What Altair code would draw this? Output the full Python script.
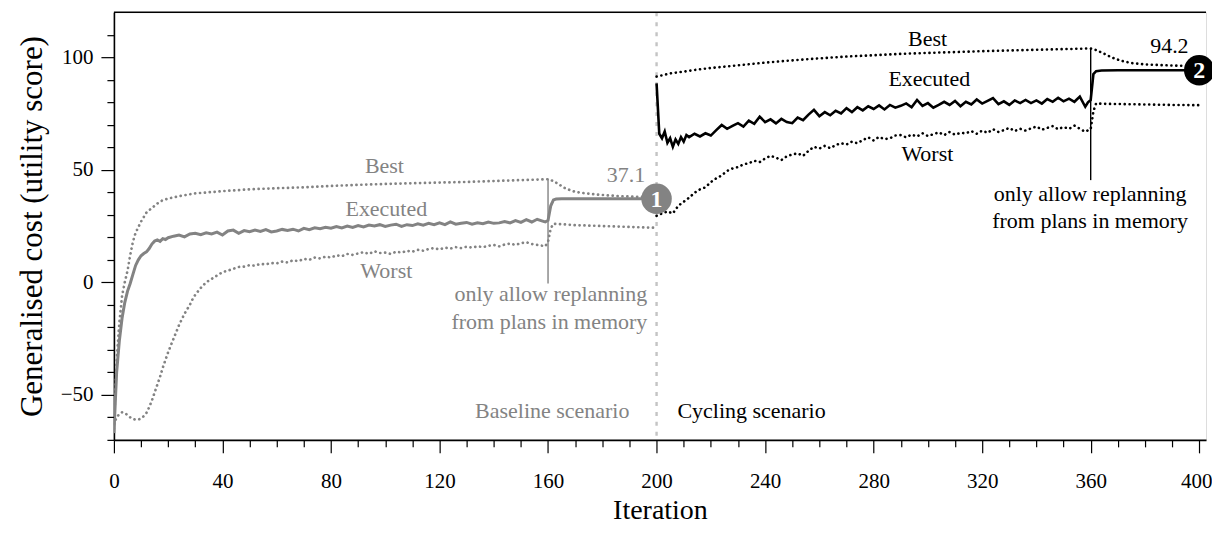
import altair as alt
import pandas as pd

# ---------------- data ----------------
# Baseline scenario (grey)
base_exec_iter = [0,1,2,3,4,5,6,7,8,9,10,11,12,13,14,15,16,17,18,19,20,
                  22,24,26,28,30,32,34,36,38,40,42,44,46,48,50,52,54,56,58,60,
                  62,64,66,68,70,72,74,76,78,80,82,84,86,88,90,92,94,96,98,100,
                  102,104,106,108,110,112,114,116,118,120,122,124,126,128,130,132,134,136,138,140,
                  142,144,146,148,150,152,154,156,158,159,160,161,162,163,165,170,180,190,200]
base_exec_val = [-67,-40,-26,-16,-9,-4,-0.5,3.5,7.5,10,11.8,12.8,13.5,15,17,18.3,18.8,18.2,19.4,19,19.8,
                 20.5,21,20.2,21.5,21.8,21.2,22,21.5,22.3,21,22.8,23.2,21.8,23,22.5,23.2,22.6,23.4,22.4,22.8,
                 23.5,23,23.6,22.8,24,23.4,24.2,23.8,24.4,24,24.8,24.2,25,24.4,25.2,24.6,25.4,25,25.6,24.8,
                 25.4,25.8,24.8,25.6,25.2,26,25.4,26.2,25.6,26.4,25.6,26.8,25.8,26.2,26.6,25.8,26.4,26,26.8,26.2,
                 26.4,27,26.4,27.4,26.6,27.8,26.8,28,27.2,26.8,27.5,34,36.6,37,37.1,37.1,37.1,37.1,37.1]

base_best_iter = [0,1,2,3,4,5,6,7,8,10,12,14,16,18,20,25,30,40,50,60,70,80,90,100,
                  110,120,130,140,150,160,162,164,166,168,170,174,180,186,192,200]
base_best_val = [-65,-35,-18,-6,0,5,12,18,22,27,31,33,35,36.5,37.2,38.5,39.5,40.5,41.3,41.8,42.2,42.8,43.3,43.7,
                 44,44.3,44.6,45,45.4,45.8,45,43.5,42,41,40.2,39.5,38.8,38.3,38,37.8]

base_worst_iter = [0,1,2,3,4,5,6,7,8,9,10,11,12,13,14,15,16,17,18,19,20,21,22,23,24,25,26,27,28,29,30,
                   32,34,36,38,40,42,44,46,48,50,52,54,56,58,60,62,64,66,68,70,72,74,76,78,80,
                   82,84,86,88,90,92,94,96,98,100,102,104,106,108,110,112,114,116,118,120,
                   122,124,126,128,130,132,134,136,138,140,142,144,146,148,150,152,154,156,158,159,160,161,162,
                   165,170,180,190,200]
base_worst_val = [-63,-60,-58.5,-57.8,-58,-59,-60,-60.8,-61,-61,-60.5,-59.5,-58,-55.5,-52.5,-49,-45.5,-42,-38,-34.5,-31,
                  -28,-25,-22,-19,-16.5,-14,-12,-10,-7.5,-5.5,
                  -2.5,0,1.5,3,4.5,5.2,6,6.8,7,7.6,7.4,8.2,8,8.6,8.4,9.2,8.8,9.8,9.4,10.4,10,11,10.6,11.4,11,
                  12,11.6,12.6,12.2,12.8,13.4,12.6,13.8,13,13.2,12.6,13.6,13.2,14,13.6,14.4,14,14.8,15.2,14.6,
                  15.4,15,15.6,15.2,15.8,15.4,16,15.6,16.2,16.6,16,16.8,17.2,16.6,17.4,17.8,17,16.6,16.2,16,18,24,26,
                  25.8,25.4,25,24.6,24.2]

# Cycling scenario (black)
cyc_exec_iter = [200,201,202,203,204,205,206,207,208,209,210,211,212,214,216,218,220,222,224,226,228,230,
                 232,234,236,238,240,242,244,246,248,250,252,254,256,258,260,262,264,266,268,270,
                 272,274,276,278,280,282,284,286,288,290,292,294,296,298,300,302,304,306,308,310,
                 312,314,316,318,320,322,324,326,328,330,332,334,336,338,340,342,344,346,348,350,
                 352,354,356,358,359,360,361,362,364,370,380,390,400]
cyc_exec_val = [88.4,66,64,67,62,64,60.2,63.5,61.5,64.5,62.5,65.4,64.5,66,64.8,66.2,65.2,67.6,69.9,68.2,69.5,70.7,
                69.2,71.8,70.4,73.6,71.2,72.4,70.6,72.6,71.2,70.7,73.2,72,74.5,76.6,73.8,75.6,74.2,76.2,75,77.4,
                75.6,77.8,76.4,78.2,77,78.6,76.8,78.8,77.6,78.4,79.5,77.8,81,78.4,79.6,77.6,78.8,80.2,78.8,80.6,
                78.2,80.2,79,81.2,79.4,80.6,81.8,79.2,80.4,78.8,80.8,79.6,81,79.6,80.8,79.4,81.4,80.2,82,80.4,
                81.6,80.2,82.5,78,80,81,92.5,93.8,94.1,94.2,94.2,94.2,94.2]

cyc_best_iter = [200,205,210,215,220,230,240,250,260,270,280,290,300,310,320,330,340,350,360,
                 362,365,368,371,375,380,390,400]
cyc_best_val = [91.4,92.8,93.6,94.5,95.2,96.4,97.6,98.6,99.5,100.3,100.9,101.5,101.9,102.3,102.7,103,103.3,103.6,103.9,
                103.2,101.5,99.8,98.5,97.4,96.8,96.3,96.1]

cyc_worst_iter = [200,202,204,206,208,210,212,214,216,218,220,222,224,226,228,230,232,234,236,238,240,
                  242,244,246,248,250,252,254,256,258,260,262,264,266,268,270,272,274,276,278,280,
                  282,284,286,288,290,292,294,296,298,300,302,304,306,308,310,312,314,316,318,320,
                  322,324,326,328,330,332,334,336,338,340,342,344,346,348,350,352,354,356,358,359,360,
                  361,362,365,370,380,390,400]
cyc_worst_val = [29.5,30.6,31.5,30.6,34,35.8,37.6,39.8,41.3,42.2,44.5,46.2,47.5,49.5,50.6,51.2,52.4,52.9,54,53.4,55,
                 56.2,55.4,54.3,56,56.8,57.3,56.2,58.4,60.2,59.4,60.6,59.6,61,61.8,61.2,62.5,61.8,63.2,64.4,63,
                 64.6,63.6,64,65.2,65.4,64.4,65.6,64.8,66.2,65,65.8,66.6,65.4,66.8,65.6,66.4,66.2,67.2,66,67.4,
                 66.4,68,66.8,67.6,68.6,67.2,68.2,67.4,68.4,69.2,67.8,68.6,69.4,68,69,68.2,69.6,68.2,66.9,67.5,68,
                 76,79.5,79.3,79.2,79,78.8,78.7]

# annotations
ann_text = ["Best", "Executed", "Worst", "Best", "Executed", "Worst",
            "only allow replanning", "from plans in memory",
            "only allow replanning", "from plans in memory",
            "Baseline scenario", "Cycling scenario", "37.1", "94.2"]
ann_x = [99.7, 100.4, 100.4, 299.9, 300.5, 299.8, 196.6, 196.6, 359.8, 359.8, 190, 207.7, 188.7, 389]
ann_y = [51.6, 32.4, 4.9, 108.3, 90.2, 56.9, -5.3, -17.6, 39.1, 27.2, -57.2, -57.2, 47.6, 105]
ann_group = ["base", "base", "base", "cyc", "cyc", "cyc", "base", "base", "cyc", "cyc",
             "base", "cyc", "base", "cyc"]
ann_align = ["center", "center", "center", "center", "center", "center", "right", "right",
             "center", "center", "right", "left", "center", "center"]

marker_x = [200, 400]
marker_y = [37.1, 94.2]
marker_label = ["1", "2"]
marker_group = ["base", "cyc"]

switch_x = [160, 360]
switch_y = [-0.5, 45.4]
switch_y2 = [46, 104]
switch_group = ["base", "cyc"]

scenario_split = [200]

# ---------------- styling ----------------
GREY = "#838383"
BLACK = "#000000"
FONT = "Liberation Serif"
W, H = 1093, 428

xscale = alt.Scale(domain=[0, 402.5], nice=False, zero=False)
yscale = alt.Scale(domain=[-70, 120], nice=False, zero=False)

xaxis = alt.Axis(
    values=list(range(0, 401, 10)),
    labelExpr="datum.value % 40 === 0 ? datum.label : ''",
    labelOffset={"condition": {"test": "datum.value === 400", "value": -3}, "value": 0},
    tickSize={"condition": {"test": "datum.value % 40 === 0", "value": 13}, "value": 7},
    tickColor="black", tickWidth=1.2, domainColor="black", domainWidth=1.6,
    labelFont=FONT, labelFontSize=21, labelColor="black", labelPadding=18,
    title="Iteration", titleFont=FONT, titleFontSize=28, titleFontWeight="normal",
    titleColor="black", titlePadding=5, grid=False, labelFlush=False,
)
yaxis = alt.Axis(
    values=list(range(-70, 111, 10)),
    labelExpr="datum.value % 50 === 0 ? replace(format(datum.value, 'd'), '-', '\u2212') : ''",
    tickSize={"condition": {"test": "datum.value % 50 === 0", "value": 13}, "value": 7},
    tickColor="black", tickWidth=1.2, domainColor="black", domainWidth=1.6,
    labelFont=FONT, labelFontSize=21, labelColor="black", labelPadding=8,
    title="Generalised cost (utility score)", titleFont=FONT, titleFontSize=31,
    titleFontWeight="normal", titleColor="black", titlePadding=12, grid=False,
)

X = lambda f: alt.X(f, type="quantitative", scale=xscale, axis=xaxis)
Y = lambda f: alt.Y(f, type="quantitative", scale=yscale, axis=yaxis)


def series(iters, vals, color, width, dotted):
    df = pd.DataFrame({"iteration": iters, "value": vals})
    kw = dict(color=color, strokeWidth=width, clip=True, interpolate="linear")
    if dotted:
        kw.update(strokeDash=[0.1, 4.8], strokeCap="round")
    return alt.Chart(df).mark_line(**kw).encode(x=X("iteration"), y=Y("value"))


split_df = pd.DataFrame({"iteration": scenario_split})
split_rule = alt.Chart(split_df).mark_rule(
    color="#c4c4c4", strokeWidth=2.4, strokeDash=[4, 6]
).encode(x=X("iteration"), y=alt.value(0), y2=alt.value(H))

top_df = pd.DataFrame({"value": [120]})
top_rule = alt.Chart(top_df).mark_rule(color="black", strokeWidth=1.6).encode(
    y=Y("value"), x=alt.value(0), x2=alt.value(W)
)

gscale = alt.Scale(domain=["base", "cyc"], range=[GREY, BLACK])

sw_df = pd.DataFrame({"iteration": switch_x, "y1": switch_y, "y2": switch_y2, "g": switch_group})
sw_rule = alt.Chart(sw_df).mark_rule(strokeWidth=1.4).encode(
    x=X("iteration"), y=Y("y1"), y2="y2",
    color=alt.Color("g:N", scale=gscale, legend=None),
)

lines = [
    series(base_best_iter, base_best_val, GREY, 2.7, True),
    series(base_worst_iter, base_worst_val, GREY, 2.7, True),
    series(base_exec_iter, base_exec_val, GREY, 3.0, False),
    series(cyc_best_iter, cyc_best_val, BLACK, 2.6, True),
    series(cyc_worst_iter, cyc_worst_val, BLACK, 2.6, True),
    series(cyc_exec_iter, cyc_exec_val, BLACK, 2.6, False),
]

mk_df = pd.DataFrame({"iteration": marker_x, "value": marker_y, "label": marker_label, "g": marker_group})
markers = alt.Chart(mk_df).mark_point(filled=True, shape="circle", size=930, opacity=1).encode(
    x=X("iteration"), y=Y("value"), color=alt.Color("g:N", scale=gscale, legend=None)
)
marker_text = alt.Chart(mk_df).mark_text(
    font=FONT, fontSize=24, fontWeight="bold", color="white", baseline="middle", align="center", dy=1
).encode(x=X("iteration"), y=Y("value"), text="label:N")

ann_df = pd.DataFrame({"iteration": ann_x, "value": ann_y, "text": ann_text, "g": ann_group, "a": ann_align})
ann_layers = []
for al in ["center", "right", "left"]:
    sub = ann_df[ann_df["a"] == al]
    ann_layers.append(
        alt.Chart(sub).mark_text(font=FONT, fontSize=22, baseline="middle", align=al).encode(
            x=X("iteration"), y=Y("value"), text="text:N",
            color=alt.Color("g:N", scale=gscale, legend=None),
        )
    )

chart = alt.layer(
    split_rule, sw_rule, *lines, markers, marker_text, *ann_layers, top_rule
).properties(
    width=W, height=H,
    autosize=alt.AutoSizeParams(type="none"),
    padding={"left": 106, "top": 4, "right": 6, "bottom": 84},
).configure_view(stroke=None).configure(font=FONT)

chart.save("out.html", embed_options={"renderer": "svg", "actions": False})
